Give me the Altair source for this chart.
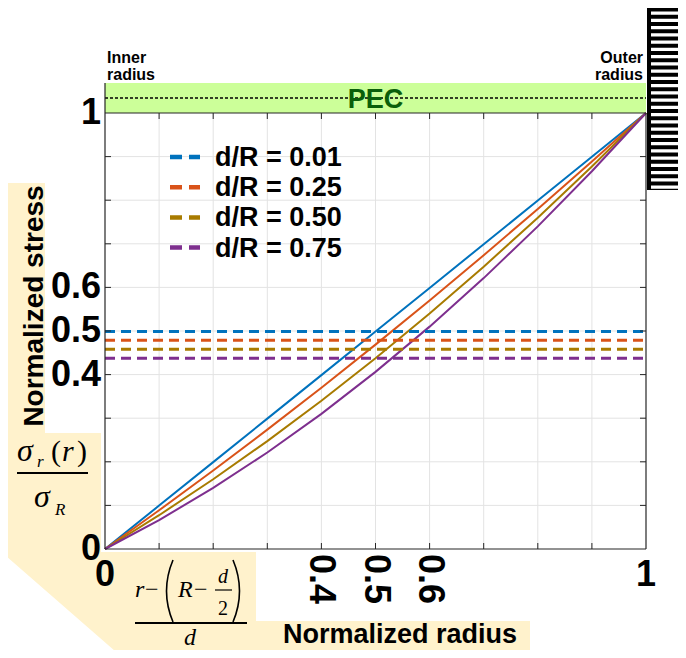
import altair as alt
import pandas as pd

# ---------------- data ----------------
x_vals = [0.0, 0.1, 0.2, 0.3, 0.4, 0.5, 0.6, 0.7, 0.8, 0.9, 1.0]
series_names = ["d/R = 0.01", "d/R = 0.25", "d/R = 0.50", "d/R = 0.75"]
stress_001 = [0.0, 0.0996, 0.1992, 0.2990, 0.3988, 0.4988, 0.5988, 0.6990, 0.7992, 0.8996, 1.0]
stress_025 = [0.0, 0.0888, 0.1800, 0.2738, 0.3700, 0.4688, 0.5700, 0.6738, 0.7800, 0.8888, 1.0]
stress_050 = [0.0, 0.0775, 0.1600, 0.2475, 0.3400, 0.4375, 0.5400, 0.6475, 0.7600, 0.8775, 1.0]
stress_075 = [0.0, 0.0663, 0.1400, 0.2213, 0.3100, 0.4063, 0.5100, 0.6213, 0.7400, 0.8663, 1.0]
mean_stress = [0.499, 0.479, 0.458, 0.4375]
series_colors = ["#0072BD", "#D95319", "#A87B00", "#7E2F8E"]

grid_vals = [0.1, 0.2, 0.3, 0.4, 0.5, 0.6, 0.7, 0.8, 0.9]
y_tick_vals = [0.0, 0.4, 0.5, 0.6, 1.0]
y_tick_text = ["0", "0.4", "0.5", "0.6", "1"]
x_tick_vals = [0.0, 1.0]
x_tick_text = ["0", "1"]
x_rot_vals = [0.4, 0.5, 0.6]
x_rot_text = ["0.4", "0.5", "0.6"]

# ---------------- layout / style ----------------
W, H = 541, 436
SANS = "Liberation Sans"
SERIF = "Liberation Serif"
AXC = "#262626"
BEIGE = "#FFF2CC"

xs = alt.Scale(domain=[0, 1], nice=False, zero=False)
ys = alt.Scale(domain=[0, 1], nice=False, zero=False)
cs = alt.Scale(domain=series_names, range=series_colors)

rows = []
for name, vals in zip(series_names, [stress_001, stress_025, stress_050, stress_075]):
    for xv, yv in zip(x_vals, vals):
        rows.append({"series": name, "x": xv, "y": yv})
curves_df = pd.DataFrame(rows)
mean_df = pd.DataFrame({"series": series_names, "m": mean_stress})
grid_df = pd.DataFrame({"v": grid_vals})
ytl_df = pd.DataFrame({"v": y_tick_vals, "t": y_tick_text})
xtl_df = pd.DataFrame({"v": x_tick_vals, "t": x_tick_text})
xrot_df = pd.DataFrame({"v": x_rot_vals, "t": x_rot_text})
one = pd.DataFrame({"k": [0]})


def shape(path, filled=True, color="black", sw=0):
    if filled:
        m = alt.Chart(one).mark_point(shape=path, size=4, opacity=1, filled=True,
                                      color=color, strokeWidth=0)
    else:
        m = alt.Chart(one).mark_point(shape=path, size=4, opacity=1, filled=False,
                                      color=color, strokeWidth=sw)
    return m.encode(x=alt.value(0), y=alt.value(0))


def rule(x, x2, y, y2, **kw):
    return alt.Chart(one).mark_rule(**kw).encode(
        x=alt.value(x), x2=alt.value(x2), y=alt.value(y), y2=alt.value(y2))


def txt(text, x, y, **kw):
    return alt.Chart(one).mark_text(**kw).encode(
        x=alt.value(x), y=alt.value(y), text=alt.value(text))


layers = []

# beige label background
beige_path = ("M-98,70 L-60,70 L-60,320 L-4,320 L-4,439 L151,439 L151,508 "
              "L425,508 L425,545 L18,545 L-98,444 Z")
layers.append(shape(beige_path, color=BEIGE))

# PEC band
layers.append(shape("M0,-30 H541 V0 H0 Z", color="#CCFF99"))
layers.append(rule(0, W, -15, -15, color="black", strokeWidth=1.3, strokeDash=[3, 2]))

# grid
layers.append(alt.Chart(grid_df).mark_rule(color="#e3e3e3", strokeWidth=1).encode(
    x=alt.X("v:Q", scale=xs, axis=None), y=alt.value(0), y2=alt.value(H)))
layers.append(alt.Chart(grid_df).mark_rule(color="#e3e3e3", strokeWidth=1).encode(
    y=alt.Y("v:Q", scale=ys, axis=None), x=alt.value(0), x2=alt.value(W)))

# curves
layers.append(alt.Chart(curves_df).mark_line(strokeWidth=2).encode(
    x=alt.X("x:Q", scale=xs, axis=None),
    y=alt.Y("y:Q", scale=ys, axis=None),
    color=alt.Color("series:N", scale=cs, legend=None)))

# mean lines
layers.append(alt.Chart(mean_df).mark_rule(strokeWidth=3, strokeDash=[10, 6]).encode(
    y=alt.Y("m:Q", scale=ys, axis=None), x=alt.value(0), x2=alt.value(W),
    color=alt.Color("series:N", scale=cs, legend=None)))

# frame
layers.append(rule(0, 0, -30, H, color=AXC, strokeWidth=1.2))
layers.append(rule(0, W, H, H, color=AXC, strokeWidth=1.2))
layers.append(rule(0, W, 0, 0, color=AXC, strokeWidth=1.2))
layers.append(rule(W, W, 0, H, color=AXC, strokeWidth=1.2))

# inward ticks
layers.append(alt.Chart(grid_df).mark_rule(color=AXC).encode(
    y=alt.Y("v:Q", scale=ys, axis=None), x=alt.value(0), x2=alt.value(6)))
layers.append(alt.Chart(grid_df).mark_rule(color=AXC).encode(
    y=alt.Y("v:Q", scale=ys, axis=None), x=alt.value(W), x2=alt.value(W - 6)))
layers.append(alt.Chart(grid_df).mark_rule(color=AXC).encode(
    x=alt.X("v:Q", scale=xs, axis=None), y=alt.value(0), y2=alt.value(6)))
layers.append(alt.Chart(grid_df).mark_rule(color=AXC).encode(
    x=alt.X("v:Q", scale=xs, axis=None), y=alt.value(H), y2=alt.value(H - 6)))

# tick labels
layers.append(alt.Chart(ytl_df).mark_text(font=SANS, fontWeight="bold", fontSize=36,
                                          align="right", baseline="middle", color="black").encode(
    y=alt.Y("v:Q", scale=ys, axis=None), x=alt.value(-4), text="t:N"))
layers.append(alt.Chart(xtl_df).mark_text(font=SANS, fontWeight="bold", fontSize=36,
                                          align="center", baseline="middle", color="black").encode(
    x=alt.X("v:Q", scale=xs, axis=None), y=alt.value(462), text="t:N"))
layers.append(alt.Chart(xrot_df).mark_text(font=SANS, fontWeight="bold", fontSize=36, angle=90,
                                           align="left", baseline="middle", color="black").encode(
    x=alt.X("v:Q", scale=xs, axis=None), y=alt.value(441), text="t:N"))

# legend
for i, (name, col) in enumerate(zip(series_names, series_colors)):
    yy = 44 + 30.2 * i
    layers.append(rule(65, 95, yy, yy, color=col, strokeWidth=4.5, strokeDash=[12, 7]))
    layers.append(txt(name, 110, yy + 9, font=SANS, fontWeight="bold", fontSize=27,
                      align="left", baseline="alphabetic", color="black"))

# annotations
layers.append(txt(["Inner", "radius"], 2, -50, font=SANS, fontWeight="bold", fontSize=16,
                  lineHeight=17, align="left", baseline="alphabetic", color="black"))
layers.append(txt(["Outer", "radius"], 538, -50, font=SANS, fontWeight="bold", fontSize=16,
                  lineHeight=17, align="right", baseline="alphabetic", color="black"))
layers.append(txt("PEC", 270.5, -5, font=SANS, fontWeight="bold", fontSize=27,
                  align="center", baseline="alphabetic", color="#0A5F0A"))
layers.append(txt("Normalized stress", -62, 193, font=SANS, fontWeight="bold", fontSize=28,
                  angle=270, align="center", baseline="alphabetic", color="black"))
layers.append(txt("Normalized radius", 295, 530, font=SANS, fontWeight="bold", fontSize=27,
                  align="center", baseline="alphabetic", color="black"))

# sigma_r(r) / sigma_R
it = dict(font=SERIF, fontStyle="italic", color="black", baseline="alphabetic")
up = dict(font=SERIF, color="black", baseline="alphabetic")
layers.append(txt("σ", -88, 348, fontSize=32, align="left", **it))
layers.append(txt("r", -68, 354, fontSize=17, align="left", **it))
layers.append(txt("(", -54, 348, fontSize=30, align="left", **up))
layers.append(txt("r", -43, 348, fontSize=30, align="left", **it))
layers.append(txt(")", -28, 348, fontSize=30, align="left", **up))
layers.append(rule(-88, -17, 360, 360, color="black", strokeWidth=2))
layers.append(txt("σ", -71, 394, fontSize=32, align="left", **it))
layers.append(txt("R", -50, 402, fontSize=17, align="left", **it))

# (r - (R - d/2)) / d
layers.append(txt("r", 30, 484, fontSize=24, align="left", **it))
layers.append(txt("−", 40, 484, fontSize=24, align="left", **up))
layers.append(shape("M68,447 Q55,478 68,509", filled=False, sw=1.6))
layers.append(txt("R", 73, 484, fontSize=24, align="left", **it))
layers.append(txt("−", 89, 484, fontSize=24, align="left", **up))
layers.append(txt("d", 118, 470, fontSize=20, align="center", **it))
layers.append(rule(110, 127, 477, 477, color="black", strokeWidth=1.2))
layers.append(txt("2", 118, 502, fontSize=20, align="center", **up))
layers.append(shape("M128,447 Q141,478 128,509", filled=False, sw=1.6))
layers.append(rule(30, 142, 510, 510, color="black", strokeWidth=2))
layers.append(txt("d", 85, 532, fontSize=24, align="center", **it))

# hatched outer boundary block
layers.append(shape("M542,-106 H600 V77 H542 Z", color="black"))
stripes = "".join(
    f"M546,{-101.5 + i * 7.25:.2f} H600 V{-101.5 + i * 7.25 + 3.3:.2f} H546 Z" for i in range(25))
layers.append(shape(stripes, color="white"))

chart = alt.layer(*layers).properties(
    width=W, height=H,
    autosize=alt.AutoSizeParams(type="none"),
    padding={"left": 97, "top": 105, "right": 32, "bottom": 101},
    background="white",
).configure_view(strokeWidth=0)

chart.save("out.html", embed_options={"renderer": "svg", "actions": False})
